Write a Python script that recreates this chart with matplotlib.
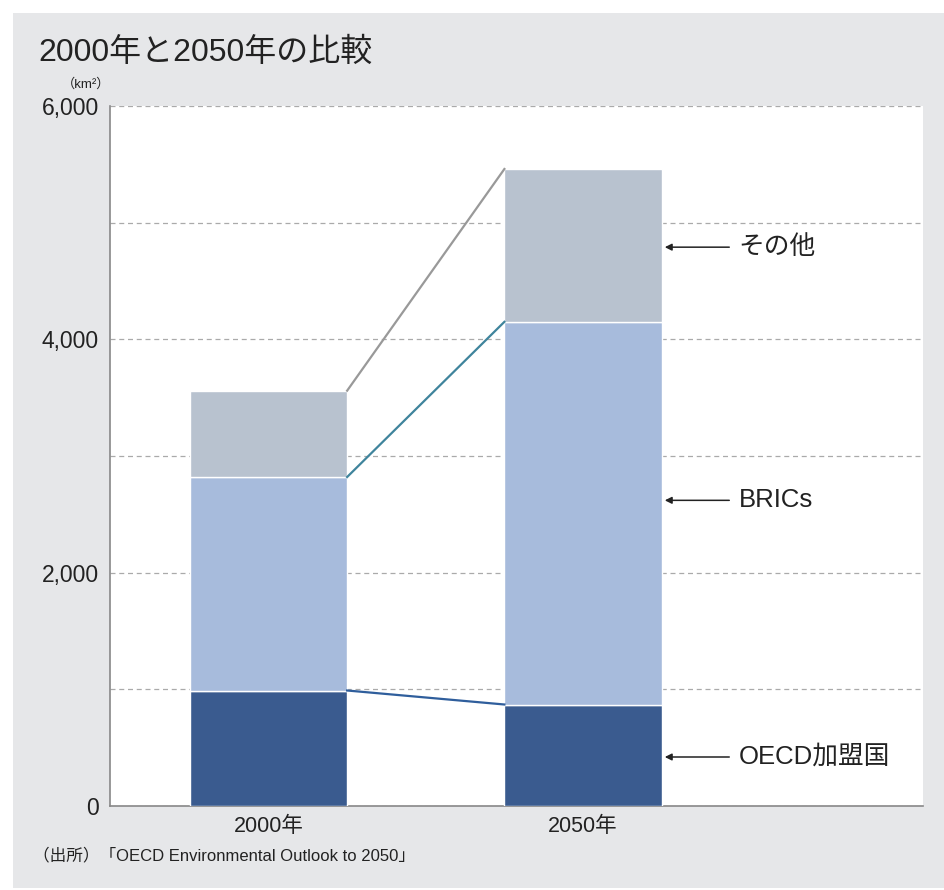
import matplotlib
matplotlib.use("Agg")
import matplotlib.pyplot as plt
from matplotlib.patches import Rectangle

plt.rcParams['font.family'] = ['Liberation Sans', 'Noto Sans CJK JP', 'DejaVu Sans']

years = ["2000年", "2050年"]
oecd = [990, 870]
brics = [1830, 3280]
others = [740, 1310]
series_names = ["OECD加盟国", "BRICs", "その他"]
colors = ["#3a5b8f", "#a7bbdc", "#b8c2cf"]
line_colors = ["#2f5e9c", "#3f849c", "#999999"]

W, H = 944, 890
fig = plt.figure(figsize=(W / 100, H / 100), dpi=100)
fig.patch.set_facecolor("white")
fig.add_artist(Rectangle((13 / W, 2 / H), 1 - 13 / W, 1 - 15 / H,
                         transform=fig.transFigure, facecolor="#e6e7e9",
                         edgecolor="none", zorder=-10))

ax = fig.add_axes([110 / W, 1 - 806 / H, (923 - 110) / W, (806 - 106) / H])
ax.set_facecolor("white")

x = [0, 1]
width = 0.5
bottoms = [0, 0]
stacks = [oecd, brics, others]
tops_list = []
for vals, col in zip(stacks, colors):
    ax.bar(x, vals, width=width, bottom=bottoms, color=col,
           edgecolor="white", linewidth=1.0, zorder=3)
    bottoms = [b + v for b, v in zip(bottoms, vals)]
    tops_list.append(list(bottoms))

for tops, lc in zip(tops_list, line_colors):
    ax.plot([x[0] + width / 2, x[1] - width / 2], [tops[0], tops[1]],
            color=lc, linewidth=1.6, zorder=4)

ax.set_xlim(-0.504, 2.081)
ax.set_ylim(0, 6000)
ax.set_yticks([0, 2000, 4000, 6000])
ax.set_yticklabels(["0", "2,000", "4,000", "6,000"], fontsize=16.5, color="#222222")
ax.set_yticks([1000, 3000, 5000], minor=True)
ax.set_xticks(x)
ax.set_xticklabels(years, fontsize=15.5, color="#222222")
ax.tick_params(axis="y", length=0, pad=8)
ax.tick_params(axis="x", length=0, pad=7)
ax.tick_params(axis="y", which="minor", length=0)
ax.grid(axis="y", which="both", linestyle=(0, (4, 3)), color="#aaaaaa",
        linewidth=0.9, zorder=1)
for s in ["top", "right"]:
    ax.spines[s].set_visible(False)
for s in ["left", "bottom"]:
    ax.spines[s].set_color("#888888")
    ax.spines[s].set_linewidth(1.2)

label_ys = [420, 2620, 4790]
for name, ly in zip(series_names, label_ys):
    ax.annotate("", xy=(x[1] + width / 2 + 0.01, ly), xytext=(x[1] + width / 2 + 0.215, ly),
                arrowprops=dict(arrowstyle="-|>", color="#222222", lw=1.1,
                                mutation_scale=10, shrinkA=0, shrinkB=0), zorder=5)
    ax.text(x[1] + width / 2 + 0.245, ly, name, fontsize=18.5, color="#222222",
            va="center", ha="left", zorder=5)

fig.text(38 / W, 1 - 53 / H, "2000年と2050年の比較", fontsize=23,
         color="#222222", va="center", ha="left")
fig.text(62 / W, 1 - 84 / H, "（km²）", fontsize=9.5, color="#222222",
         va="center", ha="left")
fig.text(33 / W, 1 - 855 / H, "（出所）「OECD Environmental Outlook to 2050」",
         fontsize=12, color="#222222", va="center", ha="left")

fig.savefig("out.png", dpi=100, facecolor=fig.get_facecolor())
